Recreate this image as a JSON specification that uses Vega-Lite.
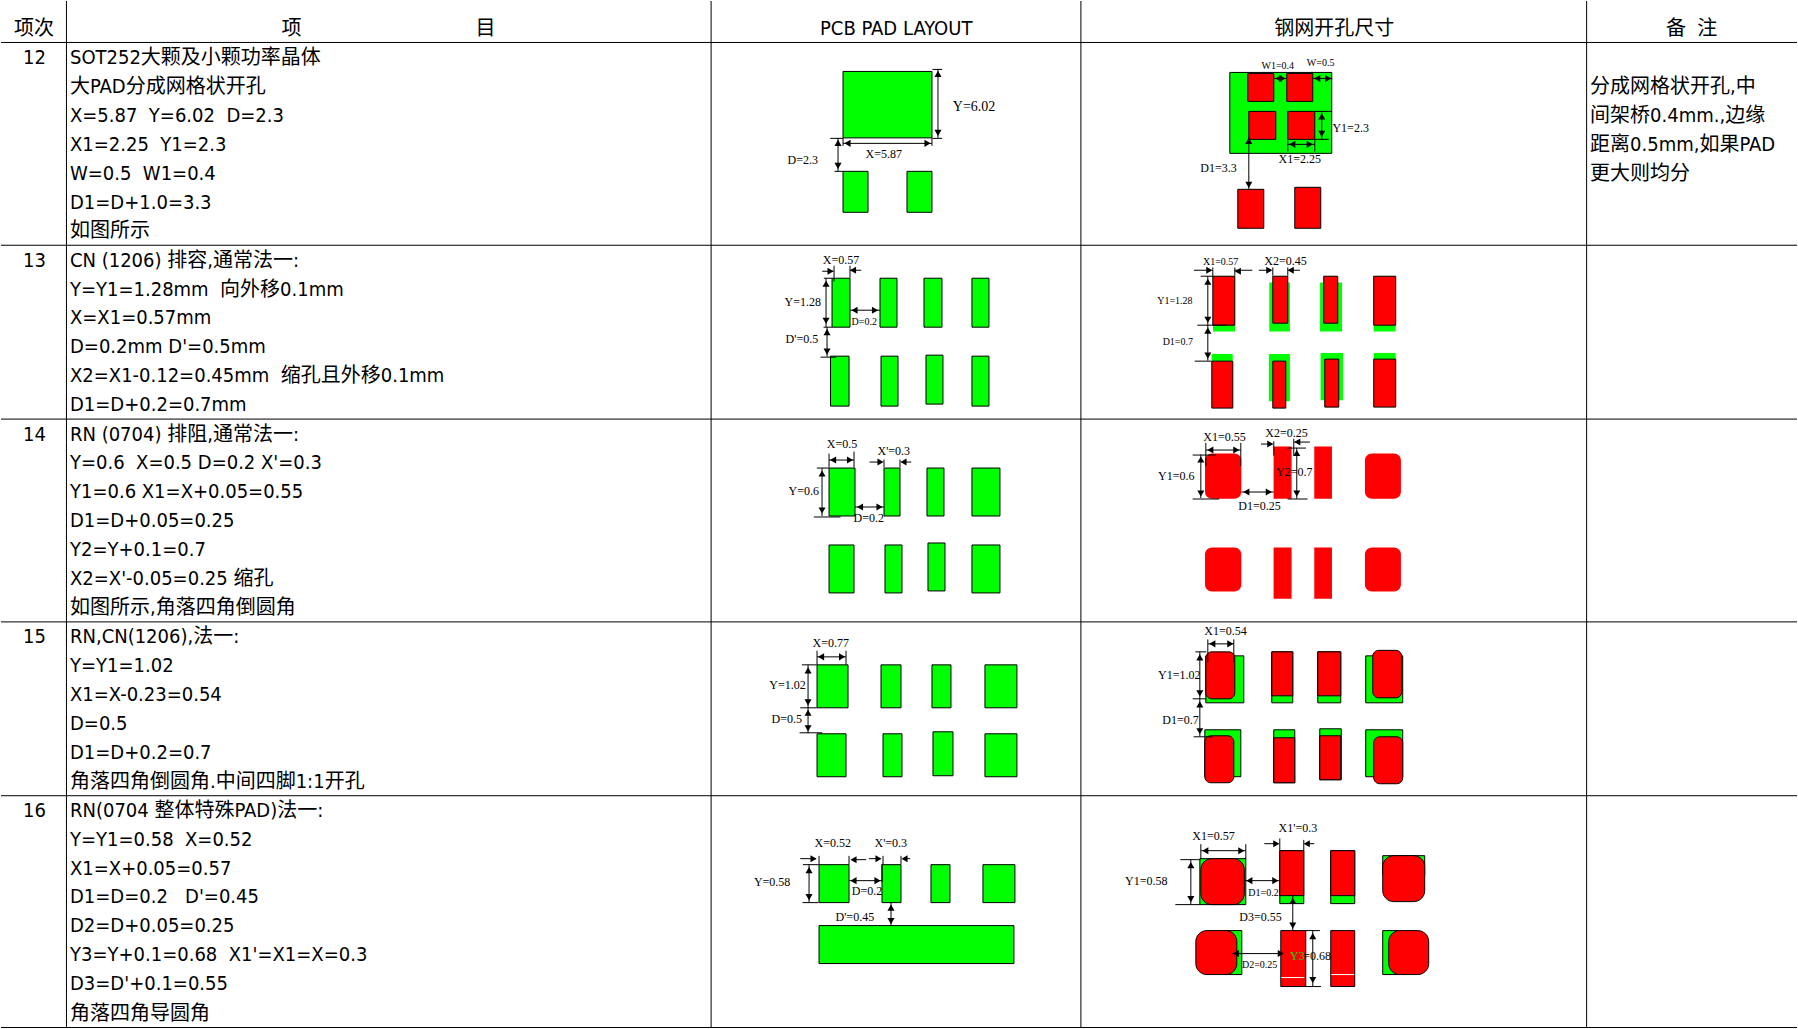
{"$schema":"https://vega.github.io/schema/vega-lite/v6.json","width":1798,"height":1029,"autosize":{"type":"fit","contains":"padding"},"padding":0,"background":"white","config":{"view":{"stroke":null}},
"datasets":{
"greenPlain":[{"x":1213.7,"x2":1235.7,"y":276.3,"y2":331.7},{"x":1270,"x2":1290.6,"y":282.7,"y2":331.7},{"x":1320.8,"x2":1342.8,"y":282.7,"y2":331.7},{"x":1374.4,"x2":1396.4,"y":276.3,"y2":331.7},{"x":1212.3,"x2":1233.4,"y":354.3,"y2":362},{"x":1269.6,"x2":1290.6,"y":354.3,"y2":401.7},{"x":1321.3,"x2":1343.7,"y":353.3,"y2":400.7},{"x":1374.4,"x2":1396.4,"y":353.3,"y2":360}],
"greenBox":[{"x":843.5,"x2":932.5,"y":71.5,"y2":138},{"x":843.5,"x2":868.5,"y":171.5,"y2":212.5},{"x":907.5,"x2":932.5,"y":171.5,"y2":212.5},
{"x":832.5,"x2":850.5,"y":278.5,"y2":327.5},{"x":880.5,"x2":897.5,"y":278.5,"y2":327.5},{"x":924.5,"x2":942.5,"y":278.5,"y2":327.5},{"x":972.5,"x2":989.5,"y":278.5,"y2":327.5},{"x":831,"x2":849.5,"y":356.5,"y2":406.5},{"x":881.5,"x2":898.5,"y":356.5,"y2":406.5},{"x":926.5,"x2":943.5,"y":355.5,"y2":404.5},{"x":972.5,"x2":989.5,"y":356.5,"y2":406.5},
{"x":829.5,"x2":855.5,"y":468.5,"y2":516.5},{"x":884.5,"x2":900.5,"y":468.5,"y2":516.5},{"x":927.5,"x2":944.5,"y":468.5,"y2":516.5},{"x":972.5,"x2":1000.5,"y":468.5,"y2":516.5},{"x":829.5,"x2":854.5,"y":545.5,"y2":593.5},{"x":885.5,"x2":902.5,"y":545.5,"y2":593.5},{"x":928.5,"x2":945.5,"y":543.5,"y2":591.5},{"x":972.5,"x2":1000.5,"y":545.5,"y2":593.5},
{"x":817.5,"x2":848.5,"y":665.5,"y2":708.5},{"x":881.5,"x2":901.5,"y":665.5,"y2":708.5},{"x":932.5,"x2":951.5,"y":665.5,"y2":708.5},{"x":985.5,"x2":1017.5,"y":665.5,"y2":708.5},{"x":817.5,"x2":846.5,"y":734.5,"y2":777.5},{"x":883.5,"x2":902.5,"y":734.5,"y2":777.5},{"x":933.5,"x2":953.5,"y":732.5,"y2":776.5},{"x":985.5,"x2":1017.5,"y":734.5,"y2":777.5},
{"x":819.5,"x2":849.5,"y":865.5,"y2":903.5},{"x":882.5,"x2":901.5,"y":865.5,"y2":903.5},{"x":931.5,"x2":950.5,"y":865.5,"y2":903.5},{"x":983.5,"x2":1015.5,"y":865.5,"y2":903.5},{"x":819.5,"x2":1014.5,"y":926.5,"y2":964.5},
{"x":1230.5,"x2":1332.5,"y":72.5,"y2":153.5},
{"x":1206.5,"x2":1244.5,"y":656.5,"y2":703.5},{"x":1272.5,"x2":1293.5,"y":652.5,"y2":703.5},{"x":1318.5,"x2":1341.5,"y":652.5,"y2":703.5},{"x":1366.5,"x2":1403.5,"y":656.5,"y2":703.5},{"x":1205.5,"x2":1241.5,"y":730.5,"y2":777.5},{"x":1274.5,"x2":1295.5,"y":730.5,"y2":783.5},{"x":1320.5,"x2":1342,"y":729.5,"y2":780.5},{"x":1366.5,"x2":1403.5,"y":730.5,"y2":777.5},
{"x":1200.5,"x2":1246.5,"y":859.5,"y2":905.5},{"x":1280.5,"x2":1304.5,"y":851.5,"y2":904.5},{"x":1331.5,"x2":1355.5,"y":851.5,"y2":904.5},{"x":1383.5,"x2":1425.5,"y":856.5,"y2":875.5},{"x":1225.5,"x2":1242.5,"y":931.5,"y2":975.5},{"x":1383.5,"x2":1400.5,"y":931.5,"y2":975.5}],
"redBox":[{"x":1248.5,"x2":1274.5,"y":73.5,"y2":101.5},{"x":1287.5,"x2":1313.5,"y":73.5,"y2":101.5},{"x":1249.5,"x2":1276.5,"y":111.5,"y2":139.5},{"x":1288.5,"x2":1315.5,"y":111.5,"y2":139.5},{"x":1238.5,"x2":1264.5,"y":189.5,"y2":228.5},{"x":1295.5,"x2":1321.5,"y":187.5,"y2":228.5},
{"x":1213.5,"x2":1235.5,"y":276.5,"y2":325.5},{"x":1273.5,"x2":1288.5,"y":276.5,"y2":323.5},{"x":1324.5,"x2":1338.5,"y":276.5,"y2":323.5},{"x":1374.5,"x2":1396.5,"y":276.5,"y2":325.5},{"x":1212.5,"x2":1233.5,"y":361.5,"y2":408.5},{"x":1273.5,"x2":1286.5,"y":361.5,"y2":408.5},{"x":1325.5,"x2":1339.5,"y":359.5,"y2":407.5},{"x":1374.5,"x2":1396.5,"y":359.5,"y2":407.5},
{"x":1272.5,"x2":1293.5,"y":652.5,"y2":696.5},{"x":1318.5,"x2":1341.5,"y":652.5,"y2":696.5},{"x":1274.5,"x2":1295.5,"y":738.5,"y2":783.5},{"x":1320.5,"x2":1341.5,"y":736.5,"y2":780.5},
{"x":1280.5,"x2":1304.5,"y":851.5,"y2":896.5},{"x":1331.5,"x2":1355.5,"y":851.5,"y2":896.5},{"x":1281.5,"x2":1306.5,"y":931.5,"y2":987.5},{"x":1331.5,"x2":1355.5,"y":931.5,"y2":987.5}],
"redRound":[{"x":1206.5,"x2":1235.5,"y":652.5,"y2":699.5},{"x":1373.5,"x2":1402.5,"y":651,"y2":698.5},{"x":1205.5,"x2":1234.5,"y":736.5,"y2":783.5},{"x":1374.5,"x2":1403.5,"y":737.5,"y2":784.5}],
"redRoundLarge":[{"x":1201.5,"x2":1245,"y":859.5,"y2":905.5},{"x":1383.5,"x2":1425.5,"y":856.5,"y2":902.5},{"x":1196.5,"x2":1237.5,"y":931.5,"y2":975.5},{"x":1389.5,"x2":1429.5,"y":931.5,"y2":975.5}],
"redFlat":[{"x":1274.3,"x2":1292.3,"y":447,"y2":499.3},{"x":1315,"x2":1332.7,"y":447,"y2":499.3},{"x":1274.3,"x2":1292.3,"y":548,"y2":599.3},{"x":1315,"x2":1332.7,"y":548,"y2":599.3}],
"redFlatRound":[{"x":1205.7,"x2":1242,"y":454,"y2":499.3},{"x":1365.7,"x2":1401.7,"y":454,"y2":499.3},{"x":1205.7,"x2":1242,"y":548,"y2":592},{"x":1365.7,"x2":1401.7,"y":548,"y2":592}],
"grid":[{"x":66.5,"x2":66.5,"y":1,"y2":1029},{"x":711.5,"x2":711.5,"y":1,"y2":1029},{"x":1081.5,"x2":1081.5,"y":1,"y2":1029},{"x":1587.5,"x2":1587.5,"y":1,"y2":1029},{"x":1,"x2":1798,"y":42.5,"y2":42.5},{"x":1,"x2":1798,"y":245.5,"y2":245.5},{"x":1,"x2":1798,"y":419.5,"y2":419.5},{"x":1,"x2":1798,"y":622.5,"y2":622.5},{"x":1,"x2":1798,"y":796.5,"y2":796.5},{"x":1,"x2":1798,"y":1028.5,"y2":1028.5}],
"dims":[{"x":933,"x2":942.7,"y":69.5,"y2":69.5},{"x":938.5,"x2":938.5,"y":69,"y2":138},{"x":933,"x2":942.7,"y":138.5,"y2":138.5},{"x":843.5,"x2":932.5,"y":143.5,"y2":143.5},{"x":843.5,"x2":843.5,"y":138,"y2":146},{"x":932.5,"x2":932.5,"y":138,"y2":146},{"x":830.7,"x2":843.5,"y":138.5,"y2":138.5},{"x":838.5,"x2":838.5,"y":138,"y2":171.5},{"x":835,"x2":843.5,"y":171.5,"y2":171.5},
{"x":834.5,"x2":834.5,"y":266,"y2":281.7},{"x":850.5,"x2":850.5,"y":266,"y2":278},{"x":822.7,"x2":834,"y":271.5,"y2":271.5},{"x":850.5,"x2":861.7,"y":270.5,"y2":270.5},{"x":824.3,"x2":832.5,"y":278.5,"y2":278.5},{"x":826.5,"x2":826.5,"y":278.5,"y2":327.5},{"x":824,"x2":832.5,"y":327.5,"y2":327.5},{"x":850.5,"x2":880.5,"y":310.5,"y2":310.5},{"x":827.5,"x2":827.5,"y":327.5,"y2":357},{"x":821,"x2":836.7,"y":357.5,"y2":357.5},
{"x":829.5,"x2":829.5,"y":454,"y2":468},{"x":854.5,"x2":854.5,"y":452,"y2":468},{"x":829.5,"x2":854.5,"y":460.5,"y2":460.5},{"x":884.5,"x2":884.5,"y":460,"y2":468},{"x":900.5,"x2":900.5,"y":460,"y2":468},{"x":870,"x2":882.5,"y":462.5,"y2":462.5},{"x":902,"x2":911.7,"y":462.5,"y2":462.5},{"x":817.3,"x2":829.5,"y":468.5,"y2":468.5},{"x":822.5,"x2":822.5,"y":468.5,"y2":516.7},{"x":814.3,"x2":841,"y":517.5,"y2":517.5},{"x":855.5,"x2":884.5,"y":507.5,"y2":507.5},
{"x":817.5,"x2":817.5,"y":651.3,"y2":665.3},{"x":846.5,"x2":846.5,"y":651.3,"y2":665.3},{"x":817.5,"x2":846.5,"y":657.5,"y2":657.5},{"x":802.3,"x2":817.3,"y":665.5,"y2":665.5},{"x":808.5,"x2":808.5,"y":665.3,"y2":734},{"x":800.7,"x2":817.3,"y":708.5,"y2":708.5},{"x":800,"x2":822.7,"y":733.5,"y2":733.5},
{"x":819.5,"x2":819.5,"y":856.7,"y2":865.3},{"x":849.5,"x2":849.5,"y":856.7,"y2":865.3},{"x":800.7,"x2":816.5,"y":859.5,"y2":859.5},{"x":852,"x2":866.7,"y":860.5,"y2":860.5},{"x":883.5,"x2":883.5,"y":856.7,"y2":865},{"x":901.5,"x2":901.5,"y":856.7,"y2":865},{"x":869.3,"x2":881,"y":859.5,"y2":859.5},{"x":904,"x2":910.7,"y":859.5,"y2":859.5},{"x":803.3,"x2":819.3,"y":865.5,"y2":865.5},{"x":809.5,"x2":809.5,"y":865.3,"y2":903.3},{"x":803,"x2":819,"y":903.5,"y2":903.5},{"x":849.5,"x2":882.7,"y":881.5,"y2":881.5},{"x":882.5,"x2":882.5,"y":865,"y2":883},{"x":891.5,"x2":891.5,"y":903.3,"y2":926.3},
{"x":1274.6,"x2":1287.4,"y":78.5,"y2":78.5},{"x":1313.5,"x2":1333,"y":78.5,"y2":78.5},{"x":1315.3,"x2":1332.7,"y":111.5,"y2":111.5},{"x":1315.3,"x2":1329.5,"y":139.5,"y2":139.5},{"x":1322.5,"x2":1322.5,"y":111.3,"y2":139.3},{"x":1288.5,"x2":1288.5,"y":139.3,"y2":151.7},{"x":1315.5,"x2":1315.5,"y":139.3,"y2":151.7},{"x":1288.3,"x2":1315.3,"y":144.5,"y2":144.5},{"x":1249.5,"x2":1249.5,"y":137,"y2":189.3},
{"x":1213.5,"x2":1213.5,"y":267.7,"y2":276.3},{"x":1235.5,"x2":1235.5,"y":267.7,"y2":276},{"x":1194.5,"x2":1212,"y":270.5,"y2":270.5},{"x":1235.2,"x2":1253,"y":270.5,"y2":270.5},{"x":1273.5,"x2":1273.5,"y":267.7,"y2":276},{"x":1288.5,"x2":1288.5,"y":267.7,"y2":276},{"x":1259.5,"x2":1272,"y":270.5,"y2":270.5},{"x":1289,"x2":1300.7,"y":270.5,"y2":270.5},{"x":1201.3,"x2":1213.7,"y":276.5,"y2":276.5},{"x":1208.5,"x2":1208.5,"y":276.3,"y2":361},{"x":1198,"x2":1227.4,"y":325.5,"y2":325.5},{"x":1195.4,"x2":1212,"y":361.5,"y2":361.5},
{"x":1206.5,"x2":1206.5,"y":443.3,"y2":466.7},{"x":1241.5,"x2":1241.5,"y":443.3,"y2":466.7},{"x":1206.7,"x2":1241.3,"y":450.5,"y2":450.5},{"x":1274.5,"x2":1274.5,"y":441.7,"y2":456},{"x":1294.5,"x2":1294.5,"y":439.3,"y2":456},{"x":1261.7,"x2":1273,"y":444.5,"y2":444.5},{"x":1295,"x2":1310.7,"y":442.5,"y2":442.5},{"x":1193.3,"x2":1216.7,"y":455.5,"y2":455.5},{"x":1201.5,"x2":1201.5,"y":455,"y2":498.5},{"x":1193.3,"x2":1220,"y":499.5,"y2":499.5},{"x":1242,"x2":1274.3,"y":492.5,"y2":492.5},{"x":1288.3,"x2":1306.7,"y":448.5,"y2":448.5},{"x":1297.5,"x2":1297.5,"y":448.3,"y2":499.3},{"x":1288.3,"x2":1308.3,"y":499.5,"y2":499.5},
{"x":1208.5,"x2":1208.5,"y":640,"y2":663},{"x":1234.5,"x2":1234.5,"y":640,"y2":663},{"x":1208.7,"x2":1234.7,"y":644.5,"y2":644.5},{"x":1196,"x2":1207,"y":652.5,"y2":652.5},{"x":1200.5,"x2":1200.5,"y":652.3,"y2":737},{"x":1193.3,"x2":1207,"y":699.5,"y2":699.5},{"x":1194.3,"x2":1213.3,"y":737.5,"y2":737.5},
{"x":1201.5,"x2":1201.5,"y":845,"y2":859.7},{"x":1246.5,"x2":1246.5,"y":845,"y2":859.7},{"x":1201.7,"x2":1246.3,"y":851.5,"y2":851.5},{"x":1181,"x2":1201,"y":860.5,"y2":860.5},{"x":1176,"x2":1201,"y":905.5,"y2":905.5},{"x":1191.5,"x2":1191.5,"y":860.3,"y2":905.3},{"x":1280.5,"x2":1280.5,"y":839.3,"y2":851.3},{"x":1304.5,"x2":1304.5,"y":840.7,"y2":851.3},{"x":1265,"x2":1279,"y":844.5,"y2":844.5},{"x":1305.5,"x2":1315,"y":844.5,"y2":844.5},{"x":1245,"x2":1280.7,"y":881.5,"y2":881.5},{"x":1293.5,"x2":1293.5,"y":896.7,"y2":931.3},{"x":1233.3,"x2":1281,"y":954.5,"y2":954.5},{"x":1306.7,"x2":1320.7,"y":931.5,"y2":931.5},{"x":1306,"x2":1321.7,"y":987.5,"y2":987.5},{"x":1313.5,"x2":1313.5,"y":931,"y2":987}],
"whiteLines":[{"x":1282,"x2":1305,"y":978.5,"y2":978.5},{"x":1332,"x2":1355,"y":975.5,"y2":975.5}],
"arrows":[{"x":938.5,"y":74,"dir":"up"},{"x":938.5,"y":133,"dir":"down"},{"x":848,"y":143.5,"dir":"left"},{"x":928,"y":143.5,"dir":"right"},{"x":838.5,"y":143,"dir":"up"},{"x":838.5,"y":166,"dir":"down"},
{"x":831,"y":271.5,"dir":"right"},{"x":853.5,"y":270.5,"dir":"left"},{"x":826.5,"y":284,"dir":"up"},{"x":826.5,"y":321,"dir":"down"},{"x":855,"y":310.5,"dir":"left"},{"x":875.5,"y":310.5,"dir":"right"},{"x":827.5,"y":332.5,"dir":"up"},{"x":827.5,"y":352,"dir":"down"},
{"x":833.5,"y":460.5,"dir":"left"},{"x":850.5,"y":460.5,"dir":"right"},{"x":881,"y":462.5,"dir":"right"},{"x":904,"y":462.5,"dir":"left"},{"x":822.5,"y":474,"dir":"up"},{"x":822.5,"y":511,"dir":"down"},{"x":860.5,"y":507.5,"dir":"left"},{"x":880,"y":507.5,"dir":"right"},
{"x":821.5,"y":657.5,"dir":"left"},{"x":842.5,"y":657.5,"dir":"right"},{"x":808.5,"y":671,"dir":"up"},{"x":808.5,"y":703,"dir":"down"},{"x":808.5,"y":713.5,"dir":"up"},{"x":808.5,"y":729,"dir":"down"},
{"x":814,"y":859.5,"dir":"right"},{"x":854,"y":860.5,"dir":"left"},{"x":879,"y":859.5,"dir":"right"},{"x":905,"y":859.5,"dir":"left"},{"x":809.5,"y":871,"dir":"up"},{"x":809.5,"y":898,"dir":"down"},{"x":854,"y":881.5,"dir":"left"},{"x":878,"y":881.5,"dir":"right"},{"x":891.5,"y":908.5,"dir":"up"},{"x":891.5,"y":922,"dir":"down"},
{"x":1279,"y":78.5,"dir":"left"},{"x":1283,"y":78.5,"dir":"right"},{"x":1318,"y":78.5,"dir":"left"},{"x":1329,"y":78.5,"dir":"right"},{"x":1322.5,"y":116.5,"dir":"up"},{"x":1322.5,"y":134,"dir":"down"},{"x":1293,"y":144.5,"dir":"left"},{"x":1310.5,"y":144.5,"dir":"right"},{"x":1249.5,"y":141,"dir":"up"},{"x":1249.5,"y":185,"dir":"down"},
{"x":1210,"y":270.5,"dir":"right"},{"x":1238.5,"y":271.5,"dir":"left"},{"x":1270,"y":270.5,"dir":"right"},{"x":1291.5,"y":270.5,"dir":"left"},{"x":1208.5,"y":282,"dir":"up"},{"x":1208.5,"y":320,"dir":"down"},{"x":1208.5,"y":331,"dir":"up"},{"x":1208.5,"y":356,"dir":"down"},
{"x":1211,"y":450.5,"dir":"left"},{"x":1237,"y":450.5,"dir":"right"},{"x":1271,"y":444.5,"dir":"right"},{"x":1298,"y":442.5,"dir":"left"},{"x":1201.5,"y":460,"dir":"up"},{"x":1201.5,"y":494,"dir":"down"},{"x":1247,"y":492.5,"dir":"left"},{"x":1269.5,"y":492.5,"dir":"right"},{"x":1297.5,"y":453.5,"dir":"up"},{"x":1297.5,"y":494,"dir":"down"},
{"x":1213,"y":644.5,"dir":"left"},{"x":1231,"y":644.5,"dir":"right"},{"x":1200.5,"y":658,"dir":"up"},{"x":1200.5,"y":694,"dir":"down"},{"x":1200.5,"y":705,"dir":"up"},{"x":1200.5,"y":732,"dir":"down"},
{"x":1206,"y":851.5,"dir":"left"},{"x":1242,"y":851.5,"dir":"right"},{"x":1191.5,"y":866,"dir":"up"},{"x":1191.5,"y":900,"dir":"down"},{"x":1277,"y":844.5,"dir":"right"},{"x":1307.5,"y":844.5,"dir":"left"},{"x":1250,"y":881.5,"dir":"left"},{"x":1276,"y":881.5,"dir":"right"},{"x":1293.5,"y":901.7,"dir":"up"},{"x":1293.5,"y":926.5,"dir":"down"},{"x":1236.5,"y":954.5,"dir":"left"},{"x":1281.5,"y":954.5,"dir":"right"},{"x":1313.5,"y":937,"dir":"up"},{"x":1313.5,"y":981,"dir":"down"}],
"body":[{"x":70,"y":56.7,"t":"SOT252大颗及小颗功率晶体"},{"x":70,"y":86,"t":"大PAD分成网格状开孔"},{"x":70,"y":114.7,"t":"X=5.87 \u00a0Y=6.02 \u00a0D=2.3"},{"x":70,"y":143.7,"t":"X1=2.25 \u00a0Y1=2.3"},{"x":70,"y":172.7,"t":"W=0.5 \u00a0W1=0.4"},{"x":70,"y":201.7,"t":"D1=D+1.0=3.3"},{"x":70,"y":230.7,"t":"如图所示"},
{"x":70,"y":260,"t":"CN (1206) 排容,通常法一:"},{"x":70,"y":289,"t":"Y=Y1=1.28mm \u00a0向外移0.1mm"},{"x":70,"y":317.7,"t":"X=X1=0.57mm"},{"x":70,"y":346.7,"t":"D=0.2mm D'=0.5mm"},{"x":70,"y":375.7,"t":"X2=X1-0.12=0.45mm \u00a0缩孔且外移0.1mm"},{"x":70,"y":404.7,"t":"D1=D+0.2=0.7mm"},
{"x":70,"y":434,"t":"RN (0704) 排阻,通常法一:"},{"x":70,"y":462.7,"t":"Y=0.6 \u00a0X=0.5 D=0.2 X'=0.3"},{"x":70,"y":491.8,"t":"Y1=0.6 X1=X+0.05=0.55"},{"x":70,"y":521,"t":"D1=D+0.05=0.25"},{"x":70,"y":549.7,"t":"Y2=Y+0.1=0.7"},{"x":70,"y":578.8,"t":"X2=X'-0.05=0.25 缩孔"},{"x":70,"y":608,"t":"如图所示,角落四角倒圆角"},
{"x":70,"y":636.7,"t":"RN,CN(1206),法一:"},{"x":70,"y":665.4,"t":"Y=Y1=1.02"},{"x":70,"y":694.6,"t":"X1=X-0.23=0.54"},{"x":70,"y":723.7,"t":"D=0.5"},{"x":70,"y":752.4,"t":"D1=D+0.2=0.7"},{"x":70,"y":782,"t":"角落四角倒圆角.中间四脚1:1开孔"},
{"x":70,"y":810.3,"t":"RN(0704 整体特殊PAD)法一:"},{"x":70,"y":839.4,"t":"Y=Y1=0.58 \u00a0X=0.52"},{"x":70,"y":868.5,"t":"X1=X+0.05=0.57"},{"x":70,"y":897.3,"t":"D1=D=0.2 \u00a0 D'=0.45"},{"x":70,"y":926.4,"t":"D2=D+0.05=0.25"},{"x":70,"y":955.1,"t":"Y3=Y+0.1=0.68 \u00a0X1'=X1=X=0.3"},{"x":70,"y":984.3,"t":"D3=D'+0.1=0.55"},{"x":70,"y":1013.8,"t":"角落四角导圆角"},
{"x":1591,"y":86,"t":"分成网格状开孔,中"},{"x":1591,"y":115,"t":"间架桥0.4mm.,边缘"},{"x":1591,"y":144,"t":"距离0.5mm,如果PAD"},{"x":1591,"y":172.7,"t":"更大则均分"}],
"centered":[{"x":34,"y":28,"t":"项次"},{"x":291.6,"y":28,"t":"项"},{"x":485.8,"y":28,"t":"目"},{"x":896.7,"y":28,"t":"PCB PAD LAYOUT"},{"x":1335,"y":28,"t":"钢网开孔尺寸"},{"x":1692.6,"y":28,"t":"备\u00a0\u00a0注"},{"x":34.4,"y":56.7,"t":"12"},{"x":34.4,"y":260,"t":"13"},{"x":34.4,"y":434,"t":"14"},{"x":34.4,"y":636.7,"t":"15"},{"x":34.4,"y":810.3,"t":"16"}],
"label14":[{"x":953.3,"y":106.7,"t":"Y=6.02"}],
"label12":[{"x":866,"y":154.3,"t":"X=5.87"},{"x":788,"y":159.7,"t":"D=2.3"},{"x":823.3,"y":260.3,"t":"X=0.57"},{"x":785,"y":302.3,"t":"Y=1.28"},{"x":786,"y":339.3,"t":"D'=0.5"},{"x":827.3,"y":444.3,"t":"X=0.5"},{"x":878,"y":451.7,"t":"X'=0.3"},{"x":789,"y":491.3,"t":"Y=0.6"},{"x":854,"y":518.7,"t":"D=0.2"},{"x":813,"y":643.3,"t":"X=0.77"},{"x":769.7,"y":685.3,"t":"Y=1.02"},{"x":772,"y":719.7,"t":"D=0.5"},{"x":815,"y":844.3,"t":"X=0.52"},{"x":875,"y":844.3,"t":"X'=0.3"},{"x":754.3,"y":882.7,"t":"Y=0.58"},{"x":852.3,"y":891.7,"t":"D=0.2"},{"x":836,"y":917.7,"t":"D'=0.45"},
{"x":1333.2,"y":127.7,"t":"Y1=2.3"},{"x":1279.2,"y":158.7,"t":"X1=2.25"},{"x":1200.9,"y":167.7,"t":"D1=3.3"},{"x":1265,"y":261.7,"t":"X2=0.45"},{"x":1204,"y":437.3,"t":"X1=0.55"},{"x":1266,"y":433.3,"t":"X2=0.25"},{"x":1158.7,"y":476.7,"t":"Y1=0.6"},{"x":1276.7,"y":472.7,"t":"Y2=0.7"},{"x":1239,"y":506.7,"t":"D1=0.25"},{"x":1205,"y":631.7,"t":"X1=0.54"},{"x":1158.7,"y":675.7,"t":"Y1=1.02"},{"x":1163,"y":720.7,"t":"D1=0.7"},{"x":1193,"y":836.7,"t":"X1=0.57"},{"x":1125.7,"y":881.7,"t":"Y1=0.58"},{"x":1279.3,"y":828.7,"t":"X1'=0.3"},{"x":1240,"y":917.7,"t":"D3=0.55"},{"x":1304,"y":956.7,"t":"=0.68"}],
"label10":[{"x":852,"y":322.3,"t":"D=0.2"},{"x":1262.2,"y":65.7,"t":"W1=0.4"},{"x":1307.6,"y":63.3,"t":"W=0.5"},{"x":1203.6,"y":262.7,"t":"X1=0.57"},{"x":1157.8,"y":301.3,"t":"Y1=1.28"},{"x":1163.3,"y":342.3,"t":"D1=0.7"},{"x":1249,"y":893.7,"t":"D1=0.2"},{"x":1242.7,"y":965.7,"t":"D2=0.25"}],
"labelGreen":[{"x":1290.7,"y":956.7,"t":"Y3"}]
},
"encoding":{"x":{"field":"x","type":"quantitative","scale":{"domain":[0,1798],"nice":false,"zero":false},"axis":null},"y":{"field":"y","type":"quantitative","scale":{"domain":[1029,0],"nice":false,"zero":false},"axis":null}},
"layer":[
{"data":{"name":"greenPlain"},"mark":{"type":"rect","fill":"#00ff00"},"encoding":{"x2":{"field":"x2"},"y2":{"field":"y2"}}},
{"data":{"name":"greenBox"},"mark":{"type":"rect","fill":"#00ff00","stroke":"#000000","strokeWidth":1},"encoding":{"x2":{"field":"x2"},"y2":{"field":"y2"}}},
{"data":{"name":"redBox"},"mark":{"type":"rect","fill":"#ff0000","stroke":"#000000","strokeWidth":1},"encoding":{"x2":{"field":"x2"},"y2":{"field":"y2"}}},
{"data":{"name":"redRound"},"mark":{"type":"rect","fill":"#ff0000","stroke":"#000000","strokeWidth":1,"cornerRadius":6},"encoding":{"x2":{"field":"x2"},"y2":{"field":"y2"}}},
{"data":{"name":"redRoundLarge"},"mark":{"type":"rect","fill":"#ff0000","stroke":"#000000","strokeWidth":1,"cornerRadius":11},"encoding":{"x2":{"field":"x2"},"y2":{"field":"y2"}}},
{"data":{"name":"redFlat"},"mark":{"type":"rect","fill":"#ff0000"},"encoding":{"x2":{"field":"x2"},"y2":{"field":"y2"}}},
{"data":{"name":"redFlatRound"},"mark":{"type":"rect","fill":"#ff0000","cornerRadius":7},"encoding":{"x2":{"field":"x2"},"y2":{"field":"y2"}}},
{"data":{"name":"whiteLines"},"mark":{"type":"rule","stroke":"#ffffff","strokeWidth":1},"encoding":{"x2":{"field":"x2"},"y2":{"field":"y2"}}},
{"data":{"name":"grid"},"mark":{"type":"rule","stroke":"#000000","strokeWidth":1},"encoding":{"x2":{"field":"x2"},"y2":{"field":"y2"}}},
{"data":{"name":"dims"},"mark":{"type":"rule","stroke":"#000000","strokeWidth":1},"encoding":{"x2":{"field":"x2"},"y2":{"field":"y2"}}},
{"data":{"name":"arrows"},"mark":{"type":"point","filled":true,"fill":"#000000","opacity":1,"size":50},"encoding":{"shape":{"field":"dir","type":"nominal","legend":null,"scale":{"domain":["up","down","left","right"],"range":["triangle-up","triangle-down","triangle-left","triangle-right"]}}}},
{"data":{"name":"body"},"mark":{"type":"text","align":"left","baseline":"middle","font":"DejaVu Sans Condensed, Noto Sans CJK SC","fontSize":20,"dy":1,"fill":"#000000"},"encoding":{"text":{"field":"t","type":"nominal"}}},
{"data":{"name":"centered"},"mark":{"type":"text","align":"center","baseline":"middle","font":"DejaVu Sans Condensed, Noto Sans CJK SC","fontSize":20,"dy":1,"fill":"#000000"},"encoding":{"text":{"field":"t","type":"nominal"}}},
{"data":{"name":"label14"},"mark":{"type":"text","align":"left","baseline":"middle","font":"Liberation Serif","fontSize":14,"fill":"#000000"},"encoding":{"text":{"field":"t","type":"nominal"}}},
{"data":{"name":"label12"},"mark":{"type":"text","align":"left","baseline":"middle","font":"Liberation Serif","fontSize":12,"fill":"#000000"},"encoding":{"text":{"field":"t","type":"nominal"}}},
{"data":{"name":"label10"},"mark":{"type":"text","align":"left","baseline":"middle","font":"Liberation Serif","fontSize":10,"fill":"#000000"},"encoding":{"text":{"field":"t","type":"nominal"}}},
{"data":{"name":"labelGreen"},"mark":{"type":"text","align":"left","baseline":"middle","font":"Liberation Serif","fontSize":12,"fill":"#00dd00"},"encoding":{"text":{"field":"t","type":"nominal"}}}
]}
